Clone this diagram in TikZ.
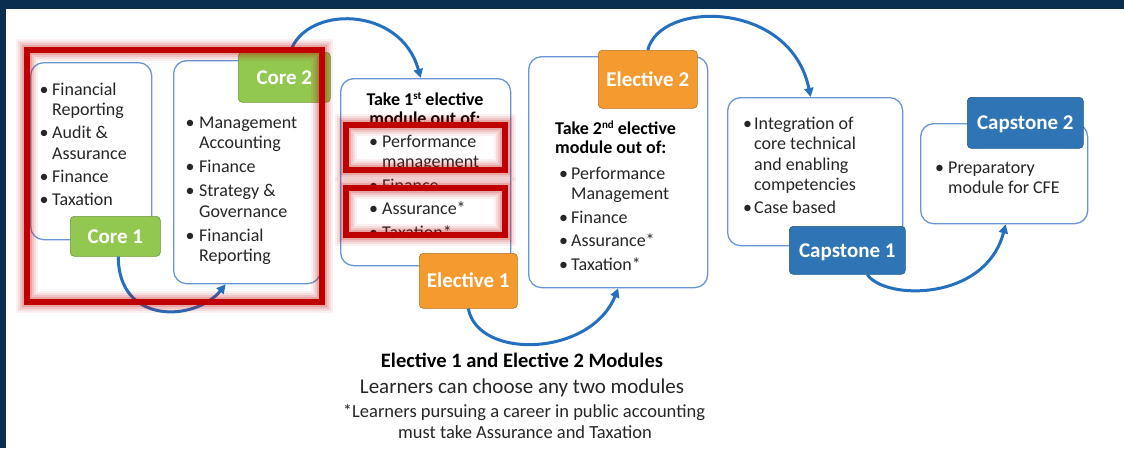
\documentclass[tikz,border=0pt]{standalone}
\usepackage{fontspec}
\setmainfont{Carlito}
\usetikzlibrary{arrows.meta}
\definecolor{navy}{RGB}{10,46,80}
\definecolor{boxline}{RGB}{105,148,214}
\definecolor{arrowblue}{RGB}{36,112,190}
\definecolor{coregreen}{RGB}{146,200,80}
\definecolor{elorange}{RGB}{244,154,46}
\definecolor{capblue}{RGB}{47,117,181}
\definecolor{hired}{RGB}{192,0,0}
\definecolor{txt}{RGB}{38,38,38}
\newcommand\bul[1]{\makebox[#1][l]{•}}
\newcommand\ind[1]{\hspace*{#1}}
\newcommand\hilite[3]{%
  \draw[hired, opacity=0.06, line width=#3+16pt] #1 rectangle #2;
  \draw[hired, opacity=0.08, line width=#3+12pt] #1 rectangle #2;
  \draw[hired, opacity=0.11, line width=#3+8pt] #1 rectangle #2;
  \draw[hired, opacity=0.15, line width=#3+4pt] #1 rectangle #2;
  \draw[hired, line width=#3] #1 rectangle #2;}
\begin{document}
\begin{tikzpicture}[x=1pt,y=-1pt,
  modbox/.style={draw=boxline, line width=1.3pt, rounded corners=13pt, fill=white, anchor=north west, inner sep=0pt},
  lab/.style={fill=#1, draw=#1!75!black, line width=0.6pt, rounded corners=4pt, anchor=north west, inner sep=0pt, text=white, font=\fontsize{21}{24}\selectfont\bfseries, text height=13.5pt, text depth=0pt},
  bodytext/.style={anchor=north west, inner sep=0pt, align=left, text=txt, font=\fontsize{18}{20.5}\selectfont},
  headtext/.style={inner sep=0pt, text=black, font=\fontsize{18}{18}\selectfont\bfseries},
  flow/.style={draw=arrowblue, line width=3pt, -{Triangle[length=9pt,width=9pt]}},
  foot/.style={anchor=base, inner sep=0pt, text=txt}
]
\useasboundingbox (0,0) rectangle (1124,448);
\fill[white] (0,0) rectangle (1124,448);
\fill[navy] (0,0) rectangle (1124,9);
\fill[navy] (0,0) rectangle (6,448);

% module boxes
\node[modbox, minimum width=121pt, minimum height=177pt] (core1) at (30,62) {};
\node[modbox, minimum width=147pt, minimum height=223pt] (core2) at (173,60) {};
\node[modbox, minimum width=170pt, minimum height=187pt] (el1) at (340,78) {};
\node[modbox, minimum width=179pt, minimum height=231pt] (el2) at (528,56) {};
\node[modbox, minimum width=175pt, minimum height=148pt] (cap1) at (727,97) {};
\node[modbox, minimum width=167pt, minimum height=100pt] (cap2) at (920,123) {};

% box texts
\node[bodytext] (core1txt) at (39.5,80.65) {\strut\bul{12.5pt}Financial\\\ind{12.5pt}Reporting\\[2.5pt]\bul{12.5pt}Audit \&\\\ind{12.5pt}Assurance\\[2.5pt]\bul{12.5pt}Finance\\[2.5pt]\bul{12.5pt}Taxation};
\node[bodytext] (core2txt) at (185.5,113.65) {\strut\bul{13.5pt}Management\\\ind{13.5pt}Accounting\\[3.5pt]\bul{13.5pt}Finance\\[3.5pt]\bul{13.5pt}Strategy \&\\\ind{13.5pt}Governance\\[3.5pt]\bul{13.5pt}Financial\\\ind{13.5pt}Reporting};

\node[headtext, anchor=north, align=center] (el1head) at (425,92.4) {\strut Take 1\smash{\raisebox{6pt}{\fontsize{11}{11}\selectfont st}} elective\\module out of:};
\node[bodytext] (el1txt) at (369,132.65) {\strut\bul{13pt}Performance\\\ind{13pt}management\\[3pt]\bul{13pt}Finance\\[3pt]\bul{13pt}Assurance*\\[3pt]\bul{13pt}Taxation*};

\node[headtext, anchor=north west, align=left] (el2head) at (555,121.4) {\strut Take 2\smash{\raisebox{6pt}{\fontsize{11}{11}\selectfont nd}} elective\\module out of:};
\node[bodytext] (el2txt) at (559,164.65) {\strut\bul{12pt}Performance\\\ind{12pt}Management\\[3pt]\bul{12pt}Finance\\[3pt]\bul{12pt}Assurance*\\[3pt]\bul{12pt}Taxation*};

\node[bodytext] (cap1txt) at (743,114.65) {\strut\bul{11pt}Integration of\\\ind{11pt}core technical\\\ind{11pt}and enabling\\\ind{11pt}competencies\\[2.5pt]\bul{11pt}Case based};
\node[bodytext] (cap2txt) at (935,158.65) {\strut\bul{13pt}Preparatory\\\ind{13pt}module for CFE};

% labels
\node[lab=coregreen, minimum width=90pt, minimum height=40pt] (core1lab) at (70,216) {Core 1};
\node[lab=coregreen, minimum width=92pt, minimum height=50pt] (core2lab) at (238,52) {Core 2};
\node[lab=elorange, minimum width=98pt, minimum height=55pt] (el1lab) at (419,253) {Elective 1};
\node[lab=elorange, minimum width=99pt, minimum height=58pt] (el2lab) at (598,50) {Elective 2};
\node[lab=capblue, minimum width=116pt, minimum height=48pt] (cap1lab) at (789,226) {Capstone 1};
\node[lab=capblue, minimum width=116pt, minimum height=51pt] (cap2lab) at (967,97) {Capstone 2};

% connectors
\draw[flow] ([xshift=3pt]core1lab.south) .. controls +(0,69) and +(-30,37) .. ([xshift=-21.5pt]core2.south);
\draw[flow] ([xshift=6pt]core2lab.north) .. controls +(15,-47) and +(-20,-73) .. ([xshift=-5pt]el1.north);
\draw[flow] (el1lab.south) .. controls +(10,52) and +(-27,68) .. (el2.south);
\draw[flow] (el2lab.north) .. controls +(12.5,-50) and +(-20,-97) .. ([xshift=-4.5pt]cap1.north);
\draw[flow] ([xshift=20pt]cap1lab.south) .. controls +(18,26) and +(-20,77) .. ([xshift=1.5pt]cap2.south);

% bottom notes
\node[foot, text=black, font=\fontsize{20.5}{24}\selectfont\bfseries] (note1) at (522,367) {Elective 1 and Elective 2 Modules};
\node[foot, font=\fontsize{21}{24}\selectfont] (note2) at (522,393) {Learners can choose any two modules};
\node[foot, font=\fontsize{18.5}{21}\selectfont] (note3) at (524,417) {*Learners pursuing a career in public accounting};
\node[foot, font=\fontsize{18.5}{21}\selectfont] (note4) at (525,438) {must take Assurance and Taxation};

% red highlights
\hilite{(27,50)}{(322,302)}{6pt}
\hilite{(346,125)}{(505,170)}{5.5pt}
\hilite{(346,188)}{(505,235)}{5.5pt}
\end{tikzpicture}
\end{document}
